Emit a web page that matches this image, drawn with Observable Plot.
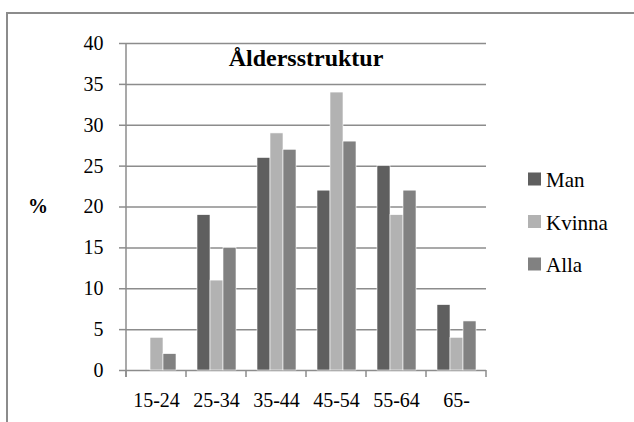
<!DOCTYPE html>
<html><head><meta charset="utf-8">
<script src="https://cdn.jsdelivr.net/npm/d3@7"></script>
<script src="https://cdn.jsdelivr.net/npm/@observablehq/plot@0.6"></script>
<style>
body{margin:0;background:#fff}
#chart{position:relative;width:634px;height:422px;overflow:hidden}
#chart svg, #chart svg text{font-family:"Liberation Serif",Tinos,"DejaVu Serif","Noto Serif","Times New Roman",Times,serif !important}
</style>
</head><body><div id="chart"></div>
<script>
const categories = ["15-24","25-34","35-44","45-54","55-64","65-"];
const seriesNames = ["Man","Kvinna","Alla"];
const man = [0,19,26,22,25,8];
const kvinna = [4,11,29,34,19,4];
const alla = [2,15,27,28,22,6];
const colors = ["#5f5f5f","#b2b2b2","#818181"];
const yTicks = [0,5,10,15,20,25,30,35,40];
const title = "Åldersstruktur";
const yLabel = "%";

const values = [man, kvinna, alla];
const data = categories.flatMap((c, i) => seriesNames.map((s, j) => ({cat: c, series: s, value: values[j][i]})));

const W = 634, H = 422;
const gray = "#8c8c8c";
const plot = Plot.plot({
  width: W, height: H,
  marginLeft: 125, marginRight: 147, marginTop: 43, marginBottom: 52,
  style: {fontSize: "20px", color: "#000", background: "transparent", overflow: "visible"},
  fx: {domain: categories, padding: 0},
  x: {domain: seriesNames, paddingInner: 0, paddingOuter: 0.75, axis: null},
  y: {domain: [0, 40]},
  color: {domain: seriesNames, range: colors},
  marks: [
    Plot.ruleY(yTicks, {stroke: gray, strokeWidth: 1.5, strokeOpacity: 1}),
    Plot.barY(data, {fx: "cat", x: "series", y: "value", fill: "series", stroke: "white", strokeWidth: 0.6}),
    Plot.axisY(yTicks, {tickSize: 7, tickPadding: 16, stroke: gray, strokeWidth: 1.5, strokeOpacity: 1, fill: "#000", label: null, fontSize: 20}),
    Plot.axisFx({anchor: "bottom", tickSize: 0, tickPadding: 22, label: null, fill: "#000", fontSize: 20})
  ]
});
document.getElementById("chart").appendChild(plot);

const svg = d3.select(plot);
const fx = plot.scale("fx"), y = plot.scale("y");
const y0 = y.apply(0), yTop = y.apply(40);
const bounds = categories.map(c => fx.apply(c));
bounds.push(bounds[bounds.length - 1] + fx.bandwidth);
const g = svg.append("g").attr("stroke", gray).attr("stroke-width", 1.5);
g.append("line").attr("x1", bounds[0]).attr("x2", bounds[0]).attr("y1", yTop).attr("y2", y0 + 7);
bounds.forEach(b => g.append("line").attr("x1", b).attr("x2", b).attr("y1", y0).attr("y2", y0 + 7));

// outer border
svg.append("rect").attr("x", 7).attr("y", 13).attr("width", 700).attr("height", 500)
  .attr("fill", "none").attr("stroke", gray).attr("stroke-width", 2);

// title
svg.append("text").attr("x", (bounds[0] + bounds[bounds.length - 1]) / 2).attr("y", 66)
  .attr("text-anchor", "middle").attr("font-weight", "bold").attr("font-size", 24)
  .attr("fill", "#000").text(title);

// y label
svg.append("text").attr("x", 38).attr("y", 213).attr("text-anchor", "middle")
  .attr("font-weight", "bold").attr("font-size", 20).attr("fill", "#000").text(yLabel);

// legend
const lg = svg.append("g").attr("font-size", 21).attr("text-anchor", "start");
seriesNames.forEach((s, i) => {
  const cy = 179 + i * 42.5;
  lg.append("rect").attr("x", 528).attr("y", cy - 6.5).attr("width", 13).attr("height", 13).attr("fill", plot.scale("color").apply(s));
  lg.append("text").attr("x", 546).attr("y", cy + 8).attr("fill", "#000").text(s);
});
</script>
</body></html>
